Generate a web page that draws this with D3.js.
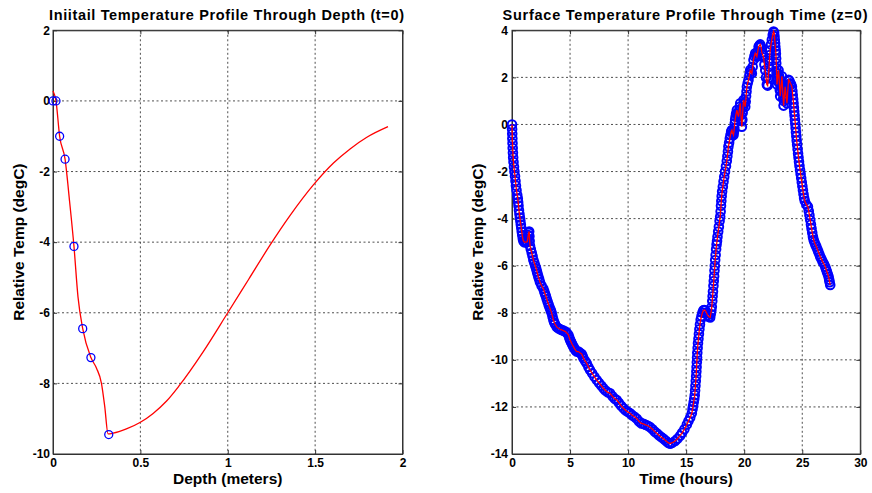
<!DOCTYPE html>
<html><head><meta charset="utf-8">
<script src="https://cdn.jsdelivr.net/npm/d3@7"></script>
<style>
body{margin:0;background:#fff;}
svg{display:block;}
text{font-family:"Liberation Sans",Arial,Helvetica,sans-serif;font-weight:bold;fill:#000;}
</style></head><body>
<svg id="c" width="872" height="493"></svg>
<script>
// ---------- Left chart data ----------
const depthTicks = [0, 0.5, 1, 1.5, 2];
const depthTempTicks = [2, 0, -2, -4, -6, -8, -10];
// measured sample points (circles)
const sampleDepth = [0, 0.017, 0.038, 0.069, 0.12, 0.17, 0.217, 0.319];
const sampleTemp  = [0, 0, -1.0, -1.65, -4.12, -6.45, -7.27, -9.45];
// fitted profile (red line)
const profileDepth = [0, 0.017, 0.038, 0.069, 0.095, 0.12, 0.143, 0.17, 0.217, 0.249, 0.277, 0.296, 0.315, 0.344, 0.42, 0.50, 0.573, 0.65, 0.72, 0.86, 1.0, 1.12, 1.24, 1.356, 1.49, 1.605, 1.70, 1.796, 1.917];
const profileTemp  = [0.28, 0, -1.0, -1.65, -2.85, -4.12, -5.55, -6.45, -7.27, -7.57, -7.99, -8.65, -9.43, -9.41, -9.29, -9.1, -8.85, -8.5, -8.08, -7.1, -6.0, -5.05, -4.1, -3.25, -2.38, -1.76, -1.36, -1.03, -0.73];

// ---------- Right chart data ----------
const timeTicks = [0, 5, 10, 15, 20, 25, 30];
const timeTempTicks = [4, 2, 0, -2, -4, -6, -8, -10, -12, -14];
// [time (hours), relative temp (degC)]
const surfaceReadings = [
[0,0],[0.01,-0.2],[0.02,-0.4],[0.03,-0.6],[0.045,-0.8],[0.06,-1.0],[0.08,-1.2],[0.1,-1.4],[0.13,-1.6],[0.17,-1.8],
[0.21,-2.0],[0.26,-2.2],[0.3,-2.4],[0.34,-2.6],[0.39,-2.8],[0.45,-3.0],[0.5,-3.15],[0.53,-3.3],[0.56,-3.45],[0.6,-3.65],
[0.64,-3.8],[0.68,-3.95],[0.72,-4.1],[0.76,-4.25],[0.8,-4.4],[0.84,-4.55],[0.88,-4.7],[0.93,-4.85],[0.98,-4.95],[1.06,-5.0],
[1.15,-5.0],[1.25,-5.0],[1.32,-4.98],[1.36,-4.85],[1.4,-4.7],[1.44,-4.6],[1.48,-4.55],[1.5,-4.75],[1.52,-4.95],[1.55,-5.15],
[1.62,-5.3],[1.7,-5.45],[1.77,-5.6],[1.84,-5.76],[1.92,-5.88],[2.0,-6.0],[2.08,-6.12],[2.15,-6.25],[2.21,-6.36],[2.27,-6.47],
[2.34,-6.58],[2.41,-6.7],[2.55,-6.85],[2.7,-6.98],[2.78,-7.1],[2.85,-7.2],[2.92,-7.3],[2.99,-7.42],[3.07,-7.53],[3.15,-7.65],
[3.22,-7.75],[3.3,-7.85],[3.36,-7.93],[3.42,-8.02],[3.49,-8.16],[3.56,-8.3],[3.63,-8.4],[3.7,-8.48],[3.85,-8.6],[3.99,-8.66],
[4.15,-8.7],[4.28,-8.73],[4.43,-8.76],[4.6,-8.8],[4.71,-8.85],[4.86,-8.94],[4.93,-9.05],[5.0,-9.15],[5.07,-9.22],[5.14,-9.3],
[5.21,-9.37],[5.29,-9.44],[5.37,-9.51],[5.45,-9.58],[5.57,-9.65],[5.72,-9.65],[5.85,-9.7],[6.0,-9.75],[6.08,-9.84],[6.15,-9.93],
[6.3,-10.05],[6.44,-10.15],[6.58,-10.3],[6.72,-10.43],[6.9,-10.57],[7.1,-10.72],[7.3,-10.86],[7.5,-10.98],[7.7,-11.1],[7.87,-11.21],
[8.05,-11.3],[8.25,-11.38],[8.45,-11.42],[8.65,-11.55],[8.85,-11.65],[9.02,-11.71],[9.2,-11.82],[9.4,-11.95],[9.6,-12.06],[9.8,-12.15],
[10.0,-12.22],[10.17,-12.27],[10.35,-12.35],[10.55,-12.42],[10.75,-12.5],[10.95,-12.62],[11.15,-12.7],[11.32,-12.72],[11.5,-12.76],[11.7,-12.8],
[11.9,-12.86],[12.1,-12.95],[12.3,-13.05],[12.47,-13.12],[12.65,-13.2],[12.85,-13.28],[13.05,-13.35],[13.25,-13.44],[13.45,-13.52],[13.62,-13.56],
[13.8,-13.52],[14.05,-13.45],[14.25,-13.35],[14.48,-13.22],[14.65,-13.1],[14.85,-12.95],[15.06,-12.75],[15.2,-12.6],[15.35,-12.45],[15.49,-12.27],
[15.55,-12.1],[15.6,-11.95],[15.65,-11.8],[15.7,-11.65],[15.74,-11.5],[15.77,-11.3],[15.8,-11.1],[15.83,-10.9],[15.86,-10.7],[15.88,-10.5],
[15.9,-10.3],[15.92,-10.1],[15.94,-9.9],[15.96,-9.7],[15.99,-9.5],[16.02,-9.3],[16.06,-9.1],[16.1,-8.9],[16.14,-8.7],[16.19,-8.5],
[16.25,-8.3],[16.32,-8.15],[16.4,-8.0],[16.48,-7.9],[16.55,-7.88],[16.65,-7.9],[16.75,-8.0],[16.85,-8.1],[16.95,-8.17],[17.07,-8.2],
[17.12,-8.05],[17.17,-7.9],[17.21,-7.74],[17.25,-7.5],[17.28,-7.3],[17.31,-7.1],[17.35,-6.85],[17.38,-6.65],[17.41,-6.45],[17.44,-6.2],
[17.47,-6.0],[17.5,-5.76],[17.54,-5.55],[17.58,-5.3],[17.62,-5.1],[17.66,-4.95],[17.7,-4.77],[17.76,-4.55],[17.82,-4.35],[17.88,-4.1],
[17.93,-3.92],[17.97,-3.7],[18.0,-3.45],[18.03,-3.25],[18.06,-3.05],[18.1,-2.85],[18.16,-2.65],[18.22,-2.42],[18.28,-2.22],[18.35,-2.0],
[18.43,-1.78],[18.5,-1.55],[18.55,-1.35],[18.6,-1.15],[18.64,-0.94],[18.7,-0.78],[18.76,-0.6],[18.82,-0.45],[18.88,-0.3],[18.94,-0.24],
[19.0,-0.35],[19.04,-0.4],[19.08,-0.45],[19.12,-0.3],[19.15,-0.15],[19.19,0.05],[19.22,0.2],[19.26,0.33],[19.3,0.45],[19.37,0.61],
[19.44,0.45],[19.51,0.33],[19.55,0.47],[19.58,0.6],[19.62,0.75],[19.66,0.9],[19.69,0.65],[19.72,0.4],[19.76,0.15],[19.8,-0.1],
[19.84,0.2],[19.87,0.5],[19.9,0.75],[19.94,1.04],[20.02,0.9],[20.09,0.75],[20.13,0.97],[20.16,1.2],[20.2,1.4],[20.23,1.6],
[20.3,1.75],[20.37,1.89],[20.45,2.1],[20.52,2.31],[20.59,2.25],[20.66,2.17],[20.73,2.45],[20.8,2.74],[20.88,2.9],[20.95,3.02],
[21.02,2.95],[21.09,2.88],[21.17,3.1],[21.24,3.3],[21.31,3.35],[21.38,3.4],[21.45,3.3],[21.52,3.05],[21.6,2.95],[21.67,2.85],
[21.74,2.55],[21.81,2.3],[21.88,2.0],[21.95,1.7],[22.02,1.65],[22.06,1.95],[22.1,2.2],[22.14,2.45],[22.17,2.7],[22.2,2.95],
[22.24,3.15],[22.31,3.4],[22.38,3.6],[22.46,3.8],[22.53,3.95],[22.58,3.9],[22.61,3.75],[22.63,3.6],[22.66,3.45],[22.68,3.3],
[22.71,3.15],[22.73,3.0],[22.75,2.8],[22.76,2.6],[22.78,2.4],[22.79,2.2],[22.81,1.95],[22.82,1.7],[22.86,1.85],[22.89,2.0],
[22.93,2.15],[22.96,2.3],[23.0,2.05],[23.03,1.75],[23.07,1.45],[23.1,1.2],[23.14,1.4],[23.17,1.6],[23.21,1.85],[23.25,2.05],
[23.28,1.75],[23.32,1.4],[23.36,1.1],[23.39,0.8],[23.43,1.0],[23.46,1.2],[23.5,1.4],[23.53,1.6],[23.57,1.42],[23.6,1.25],
[23.64,1.07],[23.68,0.9],[23.72,1.15],[23.75,1.4],[23.79,1.65],[23.82,1.9],[23.9,1.85],[23.97,1.75],[24.04,1.7],[24.11,1.6],
[24.15,1.42],[24.18,1.25],[24.22,1.07],[24.25,0.9],[24.28,0.72],[24.31,0.55],[24.34,0.38],[24.37,0.2],[24.4,0.03],[24.43,-0.15],
[24.46,-0.33],[24.49,-0.5],[24.52,-0.68],[24.56,-0.86],[24.6,-1.05],[24.64,-1.23],[24.68,-1.4],[24.72,-1.58],[24.76,-1.75],[24.81,-1.93],
[24.86,-2.1],[24.91,-2.28],[24.96,-2.45],[25.01,-2.63],[25.06,-2.8],[25.11,-2.97],[25.16,-3.12],[25.22,-3.25],[25.35,-3.4],[25.49,-3.5],
[25.56,-3.68],[25.62,-3.86],[25.69,-4.06],[25.75,-4.25],[25.8,-4.42],[25.86,-4.6],[25.92,-4.77],[25.98,-4.9],[26.05,-5.0],[26.13,-5.1],
[26.21,-5.19],[26.3,-5.3],[26.38,-5.4],[26.47,-5.51],[26.55,-5.62],[26.65,-5.72],[26.75,-5.82],[26.87,-5.93],[26.98,-6.04],[27.05,-6.15],
[27.12,-6.25],[27.2,-6.36],[27.27,-6.47],[27.32,-6.6],[27.36,-6.7],[27.41,-6.82]
];

// ---------- Drawing ----------
const svg = d3.select("#c");

function panel(opts){
  const g = svg.append("g");
  const x = d3.scaleLinear().domain(opts.xDomain).range([opts.left, opts.right]);
  const y = d3.scaleLinear().domain(opts.yDomain).range([opts.bottom, opts.top]);
  // grid
  const grid = g.append("g").attr("stroke","#222").attr("stroke-width",0.8).attr("stroke-dasharray","2,2.5").attr("fill","none");
  opts.xTicks.forEach(v=>{ if(v!==opts.xDomain[0] && v!==opts.xDomain[1]) grid.append("line").attr("x1",x(v)).attr("x2",x(v)).attr("y1",opts.top).attr("y2",opts.bottom);});
  opts.yTicks.forEach(v=>{ if(v!==opts.yDomain[0] && v!==opts.yDomain[1]) grid.append("line").attr("y1",y(v)).attr("y2",y(v)).attr("x1",opts.left).attr("x2",opts.right);});
  // axes
  const xa = d3.axisBottom(x).tickValues(opts.xTicks).tickSizeInner(-4).tickSizeOuter(0).tickPadding(4).tickFormat(d=>String(d));
  const ya = d3.axisLeft(y).tickValues(opts.yTicks).tickSizeInner(-4).tickSizeOuter(0).tickPadding(opts.yPad).tickFormat(d=>String(d));
  const xg = g.append("g").attr("transform",`translate(0,${opts.bottom})`).call(xa);
  const yg = g.append("g").attr("transform",`translate(${opts.left},0)`).call(ya);
  const xt = g.append("g").attr("transform",`translate(0,${opts.top})`).call(d3.axisTop(x).tickValues(opts.xTicks).tickSizeInner(-4).tickSizeOuter(0).tickFormat(""));
  const yr = g.append("g").attr("transform",`translate(${opts.right},0)`).call(d3.axisRight(y).tickValues(opts.yTicks).tickSizeInner(-4).tickSizeOuter(0).tickFormat(""));
  [xg,yg,xt,yr].forEach(a=>{
    a.select(".domain").attr("stroke","#333").attr("stroke-width",1);
    a.selectAll(".tick line").attr("stroke","#333");
    a.selectAll("text").attr("font-size",12).attr("font-weight","bold").attr("fill","#000").attr("font-family",'"Liberation Sans",Arial,sans-serif');
  });
  g.append("rect").attr("x",opts.left).attr("y",opts.top).attr("width",opts.right-opts.left).attr("height",opts.bottom-opts.top).attr("fill","none").attr("stroke","#333").attr("stroke-width",1);
  // labels
  g.append("text").attr("x",opts.titleX).attr("y",19.5).attr("text-anchor","middle").attr("font-size",14.5)
    .attr("textLength",opts.titleW).attr("lengthAdjust","spacing").text(opts.title);
  const cx = (opts.left+opts.right)/2;
  g.append("text").attr("x",cx).attr("y",484).attr("text-anchor","middle").attr("font-size",15.5).text(opts.xLabel);
  g.append("text").attr("transform",`translate(${opts.yLabelX},${(opts.top+opts.bottom)/2}) rotate(-90)`).attr("text-anchor","middle").attr("font-size",15.5).text(opts.yLabel);
  return {g,x,y};
}

// Left panel
const L = panel({left:53, right:402.5, top:30.3, bottom:454, xDomain:[0,2], yDomain:[-10,2],
  xTicks:depthTicks, yTicks:depthTempTicks, yPad:3, titleX:226.5, titleW:355,
  title:"Iniitail Temperature Profile Through Depth (t=0)", xLabel:"Depth (meters)", yLabel:"Relative Temp (degC)", yLabelX:24});
const profile = profileDepth.map((d,i)=>[d, profileTemp[i]]);
L.g.append("path").datum(profile).attr("fill","none").attr("stroke","#ff0000").attr("stroke-width",1.3)
  .attr("d", d3.line().x(d=>L.x(d[0])).y(d=>L.y(d[1])).curve(d3.curveMonotoneX));
L.g.selectAll("circle.s").data(sampleDepth.map((d,i)=>[d,sampleTemp[i]])).join("circle")
  .attr("cx",d=>L.x(d[0])).attr("cy",d=>L.y(d[1])).attr("r",4).attr("fill","none").attr("stroke","#0000ff").attr("stroke-width",1.3);

// Right panel
const R = panel({left:512, right:860.3, top:30.3, bottom:454, xDomain:[0,30], yDomain:[-14,4],
  xTicks:timeTicks, yTicks:timeTempTicks, yPad:4, titleX:685, titleW:365,
  title:"Surface Temperature Profile Through Time (z=0)", xLabel:"Time (hours)", yLabel:"Relative Temp (degC)", yLabelX:483});
R.g.selectAll("circle.t").data(surfaceReadings).join("circle")
  .attr("cx",d=>R.x(d[0])).attr("cy",d=>R.y(d[1])).attr("r",4.3).attr("fill","none").attr("stroke","#0000ff").attr("stroke-width",2);
R.g.append("path").datum(surfaceReadings).attr("fill","none").attr("stroke","#ff0000").attr("stroke-width",1.3)
  .attr("d", d3.line().x(d=>R.x(d[0])).y(d=>R.y(d[1])));
</script>
</body></html>
